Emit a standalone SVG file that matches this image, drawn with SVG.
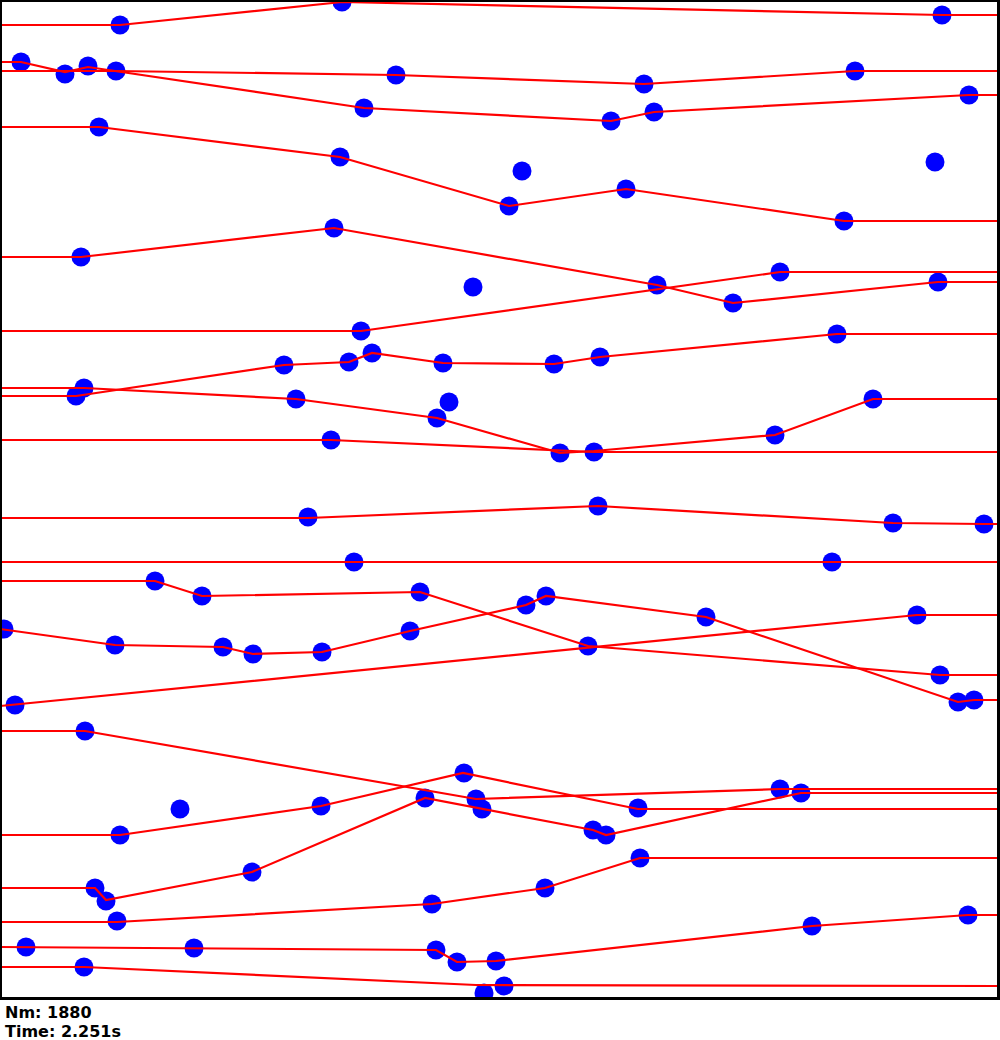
<svg xmlns="http://www.w3.org/2000/svg" width="1000" height="1040" viewBox="0 0 1000 1040">
<style>
.p{fill:#0000ff}
.t{fill:none;stroke:#ff0000;stroke-width:2.2;stroke-linejoin:miter}
.lbl{font-family:"DejaVu Sans","Liberation Sans",Arial,sans-serif;font-weight:bold;font-size:16px;fill:#000}
</style>
<defs>
<clipPath id="area"><rect x="0" y="0" width="998" height="998"/></clipPath>
</defs>
<rect x="0" y="0" width="1000" height="1040" fill="#ffffff"/>
<g id="scene" clip-path="url(#area)">
<g id="particles">
<circle class="p" r="9.5" cx="120" cy="25"/><circle class="p" r="9.5" cx="342" cy="2"/><circle class="p" r="9.5" cx="942" cy="15"/>
<circle class="p" r="9.5" cx="21" cy="62"/><circle class="p" r="9.5" cx="65" cy="74"/><circle class="p" r="9.5" cx="88" cy="66"/><circle class="p" r="9.5" cx="116" cy="71"/><circle class="p" r="9.5" cx="396" cy="75"/><circle class="p" r="9.5" cx="644" cy="84"/><circle class="p" r="9.5" cx="855" cy="71"/><circle class="p" r="9.5" cx="364" cy="108"/><circle class="p" r="9.5" cx="611" cy="121"/><circle class="p" r="9.5" cx="654" cy="112"/><circle class="p" r="9.5" cx="969" cy="95"/>
<circle class="p" r="9.5" cx="99" cy="127"/><circle class="p" r="9.5" cx="340" cy="157"/><circle class="p" r="9.5" cx="522" cy="171"/><circle class="p" r="9.5" cx="935" cy="162"/><circle class="p" r="9.5" cx="509" cy="206"/><circle class="p" r="9.5" cx="626" cy="189"/><circle class="p" r="9.5" cx="844" cy="221"/>
<circle class="p" r="9.5" cx="81" cy="257"/><circle class="p" r="9.5" cx="334" cy="228"/><circle class="p" r="9.5" cx="473" cy="287"/><circle class="p" r="9.5" cx="657" cy="285"/><circle class="p" r="9.5" cx="780" cy="272"/><circle class="p" r="9.5" cx="733" cy="303"/><circle class="p" r="9.5" cx="938" cy="282"/>
<circle class="p" r="9.5" cx="361" cy="331"/><circle class="p" r="9.5" cx="837" cy="334"/><circle class="p" r="9.5" cx="284" cy="365"/><circle class="p" r="9.5" cx="349" cy="362"/><circle class="p" r="9.5" cx="372" cy="353"/><circle class="p" r="9.5" cx="443" cy="363"/><circle class="p" r="9.5" cx="554" cy="364"/><circle class="p" r="9.5" cx="600" cy="357"/>
<circle class="p" r="9.5" cx="84" cy="388"/><circle class="p" r="9.5" cx="76" cy="396"/><circle class="p" r="9.5" cx="296" cy="399"/><circle class="p" r="9.5" cx="449" cy="402"/><circle class="p" r="9.5" cx="437" cy="418"/><circle class="p" r="9.5" cx="331" cy="440"/><circle class="p" r="9.5" cx="560" cy="453"/><circle class="p" r="9.5" cx="594" cy="452"/><circle class="p" r="9.5" cx="775" cy="435"/><circle class="p" r="9.5" cx="873" cy="399"/>
<circle class="p" r="9.5" cx="308" cy="517"/><circle class="p" r="9.5" cx="598" cy="506"/><circle class="p" r="9.5" cx="893" cy="523"/><circle class="p" r="9.5" cx="984" cy="524"/>
<circle class="p" r="9.5" cx="354" cy="562"/><circle class="p" r="9.5" cx="832" cy="562"/>
<circle class="p" r="9.5" cx="155" cy="581"/><circle class="p" r="9.5" cx="202" cy="596"/><circle class="p" r="9.5" cx="420" cy="592"/><circle class="p" r="9.5" cx="526" cy="605"/><circle class="p" r="9.5" cx="546" cy="596"/><circle class="p" r="9.5" cx="706" cy="617"/><circle class="p" r="9.5" cx="917" cy="615"/><circle class="p" r="9.5" cx="4" cy="629"/><circle class="p" r="9.5" cx="115" cy="645"/><circle class="p" r="9.5" cx="223" cy="647"/><circle class="p" r="9.5" cx="253" cy="654"/><circle class="p" r="9.5" cx="322" cy="652"/><circle class="p" r="9.5" cx="410" cy="631"/><circle class="p" r="9.5" cx="588" cy="646"/><circle class="p" r="9.5" cx="940" cy="675"/><circle class="p" r="9.5" cx="958" cy="702"/><circle class="p" r="9.5" cx="974" cy="700"/><circle class="p" r="9.5" cx="15" cy="705"/>
<circle class="p" r="9.5" cx="85" cy="731"/><circle class="p" r="9.5" cx="464" cy="773"/><circle class="p" r="9.5" cx="780" cy="789"/><circle class="p" r="9.5" cx="801" cy="793"/><circle class="p" r="9.5" cx="180" cy="809"/><circle class="p" r="9.5" cx="321" cy="806"/><circle class="p" r="9.5" cx="425" cy="798"/><circle class="p" r="9.5" cx="476" cy="799"/><circle class="p" r="9.5" cx="482" cy="809"/><circle class="p" r="9.5" cx="638" cy="808"/><circle class="p" r="9.5" cx="593" cy="830"/><circle class="p" r="9.5" cx="606" cy="835"/><circle class="p" r="9.5" cx="120" cy="835"/><circle class="p" r="9.5" cx="95" cy="888"/><circle class="p" r="9.5" cx="106" cy="901"/><circle class="p" r="9.5" cx="252" cy="872"/><circle class="p" r="9.5" cx="640" cy="858"/><circle class="p" r="9.5" cx="545" cy="888"/><circle class="p" r="9.5" cx="432" cy="904"/><circle class="p" r="9.5" cx="117" cy="921"/><circle class="p" r="9.5" cx="968" cy="915"/><circle class="p" r="9.5" cx="812" cy="926"/><circle class="p" r="9.5" cx="26" cy="947"/><circle class="p" r="9.5" cx="194" cy="948"/><circle class="p" r="9.5" cx="436" cy="950"/><circle class="p" r="9.5" cx="457" cy="962"/><circle class="p" r="9.5" cx="496" cy="961"/><circle class="p" r="9.5" cx="84" cy="967"/><circle class="p" r="9.5" cx="504" cy="986"/><circle class="p" r="9.5" cx="484" cy="993"/>
</g>
<g id="trajectories">
<polyline class="t" points="0,25 120,25 342,2 942,15 998,15"/>
<polyline class="t" points="0,62 21,62 65,72 88,67 364,108 611,121 654,112 969,95 998,95"/>
<polyline class="t" points="0,71 116,71 396,75 644,84 855,71 998,71"/>
<polyline class="t" points="0,127 99,127 340,157 509,206 626,189 844,221 998,221"/>
<polyline class="t" points="0,257 81,257 334,228 657,285 733,303 938,282 998,282"/>
<polyline class="t" points="0,331 361,331 780,272 998,272"/>
<polyline class="t" points="0,388 84,388 296,399 437,418 560,453 594,451 775,435 873,399 998,399"/>
<polyline class="t" points="0,440 331,440 594,452 998,452"/>
<polyline class="t" points="0,396 76,396 284,365 349,362 372,353 443,363 554,364 600,357 837,334 998,334"/>
<polyline class="t" points="0,518 308,518 598,506 893,523 984,524 998,524"/>
<polyline class="t" points="0,562 998,562"/>
<polyline class="t" points="0,581 155,581 202,596 420,592 588,646 940,675 998,675"/>
<polyline class="t" points="0,629 115,645 223,647 253,654 322,652 410,631 526,605 546,596 706,617 958,702 974,700 998,700"/>
<polyline class="t" points="0,706 917,615 998,615"/>
<polyline class="t" points="0,731 85,731 476,799 780,789 998,789"/>
<polyline class="t" points="0,888 95,888 106,900 252,872 425,798 593,830 606,835 801,793 998,793"/>
<polyline class="t" points="0,835 120,835 321,806 463,773 638,809 998,809"/>
<polyline class="t" points="0,922 117,922 432,904 545,888 640,858 998,858"/>
<polyline class="t" points="0,947 436,950 457,962 496,961 812,926 968,915 998,915"/>
<polyline class="t" points="0,967 84,967 476,985 998,986"/>
</g>
</g>
<path id="frame" fill="#000" fill-rule="evenodd" d="M0,0 H1000 V1000 H0 Z M2,2 V997 H997 V2 Z"/>
<g id="status">
<text class="lbl" x="5" y="1018">Nm: 1880</text>
<text class="lbl" x="5" y="1037">Time: 2.251s</text>
</g>
</svg>
